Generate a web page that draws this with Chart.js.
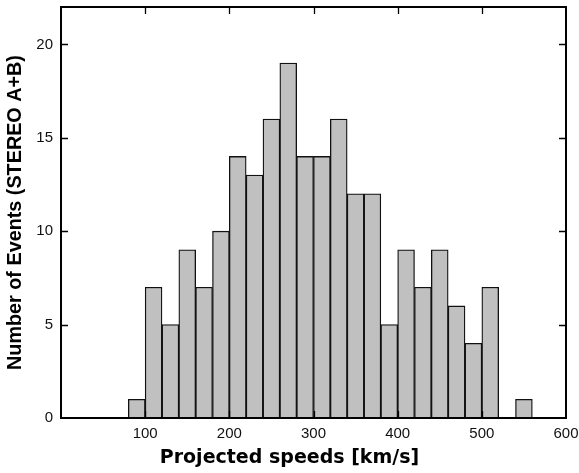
<!DOCTYPE html>
<html>
<head>
<meta charset="utf-8">
<script src="https://cdn.jsdelivr.net/npm/chart.js@4/dist/chart.umd.min.js"></script>
<style>
  html, body { margin: 0; padding: 0; background: #fff; }
  #wrap { width: 579px; height: 473px; }
</style>
</head>
<body>
<div id="wrap"><canvas id="myChart" width="579" height="473"></canvas></div>
<script>
// bins of 20 km/s, centres
var binCenters = [90, 110, 130, 150, 170, 190, 210, 230, 250, 270, 290, 310,
                  330, 350, 370, 390, 410, 430, 450, 470, 490, 510, 530, 550];
var eventCounts = [1, 7, 5, 9, 7, 10, 14, 13, 16, 19, 14, 14,
                   16, 12, 12, 5, 9, 7, 9, 6, 4, 7, 0, 1];
var xTickLabels = [100, 200, 300, 400, 500, 600];
var yTickLabels = [0, 5, 10, 15, 20];

var points = binCenters.map(function(c, i) { return { x: c, y: eventCounts[i] }; });

// ticks pointing inwards on all four sides + frame
var frameTicks = {
    id: 'frameTicks',
    afterDraw: function(chart) {
        var ctx = chart.ctx;
        var a = chart.chartArea;
        var xs = chart.scales.x, ys = chart.scales.y;
        ctx.save();
        ctx.strokeStyle = '#000';
        ctx.lineWidth = 1.3;
        ctx.beginPath();
        xs.ticks.forEach(function(t) {
            if (t.value <= xs.min || t.value >= xs.max) return;
            var px = Math.round(xs.getPixelForValue(t.value)) + 0.5;
            var len = xTickLabels.indexOf(t.value) >= 0 ? 7 : 4;
            ctx.moveTo(px, a.bottom); ctx.lineTo(px, a.bottom - len);
            ctx.moveTo(px, a.top); ctx.lineTo(px, a.top + len);
        });
        ys.ticks.forEach(function(t) {
            if (t.value <= ys.min || t.value >= ys.max) return;
            var py = Math.round(ys.getPixelForValue(t.value)) + 0.5;
            var len = yTickLabels.indexOf(t.value) >= 0 ? 7 : 4;
            ctx.moveTo(a.left, py); ctx.lineTo(a.left + len, py);
            ctx.moveTo(a.right, py); ctx.lineTo(a.right - len, py);
        });
        ctx.stroke();
        ctx.lineWidth = 2;
        ctx.strokeRect(a.left, a.top, a.right - a.left, a.bottom - a.top);
        ctx.restore();
    }
};

var ctx = document.getElementById('myChart').getContext('2d');
var myChart = new Chart(ctx, {
    type: 'bar',
    data: {
        datasets: [{
            label: 'Events',
            data: points,
            backgroundColor: '#c0c0c0',
            borderColor: '#111',
            borderWidth: 1.3,
            borderSkipped: 'start',
            barPercentage: 1,
            categoryPercentage: 1
        }]
    },
    options: {
        responsive: false,
        animation: false,
        layout: { padding: { top: 7, right: 0, left: 0, bottom: 0 } },
        scales: {
            x: {
                type: 'linear',
                min: 0,
                max: 600,
                offset: false,
                grid: { display: false, drawTicks: false },
                border: { display: false },
                ticks: {
                    stepSize: 20,
                    autoSkip: false,
                    maxRotation: 0,
                    padding: 7,
                    color: '#111',
                    font: { family: 'Liberation Sans', size: 15 },
                    callback: function(v) { return xTickLabels.indexOf(v) >= 0 ? String(v) : null; }
                },
                afterFit: function(scale) {
                    scale.height = 28.6;
                    scale.paddingLeft = 0;
                    scale.paddingRight = 13;
                }
            },
            y: {
                min: 0,
                max: 22,
                grid: { display: false, drawTicks: false },
                border: { display: false },
                ticks: {
                    stepSize: 1,
                    autoSkip: false,
                    padding: 8,
                    color: '#111',
                    font: { family: 'Liberation Sans', size: 15 },
                    callback: function(v) { return yTickLabels.indexOf(v) >= 0 ? String(v) : null; }
                },
                title: {
                    display: true,
                    text: 'Number of Events (STEREO A+B)',
                    color: '#000',
                    font: { family: 'Liberation Sans', size: 19.8, weight: 'bold' },
                    padding: { top: 3.2, bottom: 0 }
                },
                afterFit: function(scale) {
                    scale.width = 61;
                    scale.paddingTop = 0;
                    scale.paddingBottom = 0;
                }
            }
        },
        plugins: {
            legend: { display: false },
            tooltip: { enabled: false },
            title: {
                display: true,
                position: 'bottom',
                text: 'Projected speeds [km/s]',
                color: '#000',
                font: { family: 'DejaVu Sans', size: 19, weight: 'bold' },
                padding: { top: 0, bottom: 3.6 }
            }
        }
    },
    plugins: [frameTicks]
});
</script>
</body>
</html>
